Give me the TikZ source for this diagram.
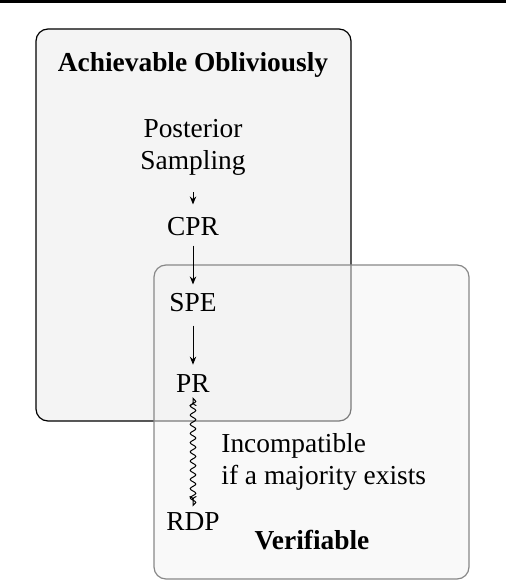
\documentclass[tikz,border=0pt]{standalone}
\usepackage{fontspec}
\setmainfont{Liberation Serif}
\usetikzlibrary{arrows.meta,decorations.pathmorphing}
\definecolor{oblivfill}{RGB}{244,244,244}
\definecolor{verifill}{RGB}{243,243,243}
\definecolor{veriedge}{RGB}{136,136,136}

\begin{document}
\begin{tikzpicture}[x=0.5pt,y=-0.5pt]
    \tikzstyle{every node}=[inner sep=1.5pt, font=\fontsize{13.7}{16}\selectfont]
    \tikzstyle{notion}=[anchor=base]
    \tikzstyle{heading}=[anchor=base, font=\fontsize{13.7}{16}\selectfont\bfseries]
    \tikzstyle{group}=[rounded corners=6pt, line width=0.6pt]
    \tikzstyle{implies}=[-{Stealth[length=4pt,width=3.2pt]}, line width=0.5pt]
    \tikzstyle{clash}=[{To[length=1.8pt,width=3.6pt]}-{To[length=1.8pt,width=3.6pt]}, line width=0.5pt,
      decorate, decoration={snake, amplitude=1.4pt, segment length=4.6pt, pre length=1.5pt, post length=1.5pt}]

    \useasboundingbox (0,0) rectangle (506,582);
    \draw[line width=1.5pt] (0,1.5) -- (506,1.5);

    % the two regions
    \draw[group, draw=black, fill=oblivfill] (36,29) rectangle (351,421);
    \draw[group, draw=veriedge, fill=verifill, fill opacity=0.5] (154,265) rectangle (469,579);

    \node[heading] (oblivious) at (193,72) {Achievable Obliviously};
    \node[heading] (verifiable) at (312,549) {Verifiable};

    \node[align=center] (posterior) at (193,147) {Posterior\\Sampling};
    \node[notion] (cpr) at (193,235) {CPR};
    \node[notion] (spe) at (193,311) {SPE};
    \node[notion] (pr) at (193,392) {PR};
    \node[notion] (rdp) at (193,530) {RDP};
    \node[anchor=west, align=left] (incompat) at (218,462) {Incompatible\\if a majority exists};

    \draw[implies, shorten <=7pt, shorten >=4.5pt] (posterior) -- (cpr);
    \draw[implies, shorten <=3.5pt, shorten >=2.5pt] (cpr) -- (spe);
    \draw[implies, shorten <=5.5pt, shorten >=3pt] (spe) -- (pr);
    \draw[clash, shorten <=3.5pt, shorten >=4.5pt] (pr) -- (rdp);
\end{tikzpicture}
\end{document}
